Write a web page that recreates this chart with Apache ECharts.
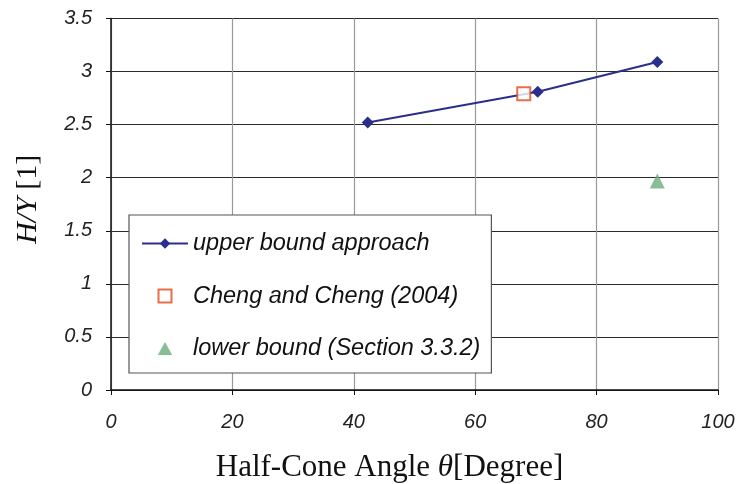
<!DOCTYPE html>
<html>
<head>
<meta charset="utf-8">
<script src="https://cdn.jsdelivr.net/npm/echarts@6/dist/echarts.min.js"></script>
<style>
  html, body { margin: 0; padding: 0; background: #ffffff; }
  #chart { width: 738px; height: 484px; }
</style>
</head>
<body>
<div id="chart"></div>
<script>
// Hardness-to-yield ratio versus half-cone angle
const upperAngles = [42.3, 70.3, 90];
const upperValues = [2.52, 2.81, 3.09];
const chengAngles = [68];
const chengValues = [2.79];
const lowerAngles = [90];
const lowerValues = [1.97];
const xTicks = [0, 20, 40, 60, 80, 100];
const yTicks = [0, 0.5, 1, 1.5, 2, 2.5, 3, 3.5];

const seriesNames = [
  'upper bound approach',
  'Cheng and Cheng (2004)',
  'lower bound (Section 3.3.2)'
];

const pairs = (xs, ys) => xs.map((x, i) => [x, ys[i]]);

const sansItalic = '"Liberation Sans", Arial, sans-serif';
const serif = '"Liberation Serif", "Times New Roman", serif';

const tickFont = {
  fontFamily: sansItalic,
  fontStyle: 'italic',
  fontSize: 20,
  color: '#222'
};

// path icons keep their aspect inside the legend item box
const squareIcon = 'path://M0,0L10,0L10,10L0,10Z';
const triangleIcon = 'path://M5,0L10,9L0,9Z';

const chart = echarts.init(document.getElementById('chart'));
chart.setOption({
  backgroundColor: '#ffffff',
  animation: false,
  grid: {
    left: 111, right: 20, top: 18.5, bottom: 94,
    containLabel: false,
    outerBoundsMode: 'none'
  },
  xAxis: {
    type: 'value',
    min: xTicks[0],
    max: xTicks[xTicks.length - 1],
    interval: 20,
    name: '{a|Half-Cone Angle }{b|θ}{a|[Degree]}',
    nameLocation: 'middle',
    nameGap: 62,
    nameTextStyle: {
      padding: [0, 50, 0, 0],
      rich: {
        a: { fontFamily: serif, fontSize: 31, color: '#111' },
        b: { fontFamily: serif, fontSize: 31, fontStyle: 'italic', color: '#111' }
      }
    },
    axisLine: { show: true, onZero: false, lineStyle: { color: '#111', width: 1.5 } },
    axisTick: { show: true, inside: false, length: 5, lineStyle: { color: '#111' } },
    axisLabel: Object.assign({ margin: 22 }, tickFont),
    splitLine: { show: true, lineStyle: { color: '#999', width: 1.2 } }
  },
  yAxis: {
    type: 'value',
    min: yTicks[0],
    max: yTicks[yTicks.length - 1],
    interval: 0.5,
    name: '{a|H/Y }{b|[1]}',
    nameLocation: 'middle',
    nameRotate: 90,
    nameGap: 68,
    nameTextStyle: {
      padding: [0, 0, 0, 10],
      rich: {
        a: { fontFamily: serif, fontSize: 30, fontStyle: 'italic', color: '#111' },
        b: { fontFamily: serif, fontSize: 30, color: '#111' }
      }
    },
    axisLine: { show: true, onZero: false, lineStyle: { color: '#111', width: 1.5 } },
    axisTick: { show: true, inside: false, length: 5, lineStyle: { color: '#111' } },
    axisLabel: Object.assign({ margin: 19 }, tickFont),
    splitLine: { show: true, lineStyle: { color: '#2a2a2a', width: 1.2 } }
  },
  legend: {
    orient: 'vertical',
    left: 129,
    top: 215,
    padding: [17, 11, 13, 12],
    itemGap: 29.5,
    itemWidth: 46,
    itemHeight: 13,
    backgroundColor: '#ffffff',
    borderColor: '#555',
    borderWidth: 1.2,
    borderRadius: 0,
    textStyle: {
      fontFamily: sansItalic,
      fontStyle: 'italic',
      fontSize: 23.5,
      color: '#111'
    },
    data: [
      { name: seriesNames[0] },
      { name: seriesNames[1], icon: squareIcon },
      { name: seriesNames[2], icon: triangleIcon }
    ]
  },
  series: [
    {
      name: seriesNames[0],
      type: 'line',
      data: pairs(upperAngles, upperValues),
      symbol: 'diamond',
      symbolSize: 12,
      lineStyle: { color: '#2b2f8c', width: 2 },
      itemStyle: { color: '#2b2f8c' },
      z: 3
    },
    {
      name: seriesNames[1],
      type: 'scatter',
      data: pairs(chengAngles, chengValues),
      symbol: 'rect',
      symbolSize: 13,
      itemStyle: { color: '#ffffff', borderColor: '#e04a1c', borderWidth: 2 },
      z: 4
    },
    {
      name: seriesNames[2],
      type: 'scatter',
      data: pairs(lowerAngles, lowerValues),
      symbol: 'triangle',
      symbolSize: 15,
      itemStyle: { color: '#6aac7c' },
      z: 4
    }
  ]
});
</script>
</body>
</html>
